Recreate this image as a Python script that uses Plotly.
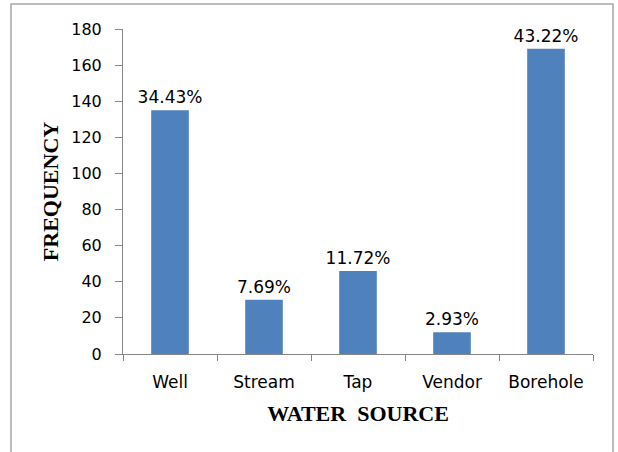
import plotly.graph_objects as go

categories = ["Well", "Stream", "Tap", "Vendor", "Borehole"]
frequency = [135, 30, 46, 12, 169]
percent_labels = ["34.43%", "7.69%", "11.72%", "2.93%", "43.22%"]
y_ticks = [0, 20, 40, 60, 80, 100, 120, 140, 160, 180]

W, H = 618, 452
L, R, T, B = 123, 25, 29, 98
pw, ph = W - L - R, H - T - B

fig = go.Figure(go.Bar(
    x=categories, y=frequency, text=percent_labels,
    textposition="outside", cliponaxis=False, constraintext="none",
    textfont=dict(family="DejaVu Sans", size=17, color="#000000"),
    marker=dict(color="#4f81bd", line=dict(width=0)),
))

fig.update_layout(
    width=W, height=H,
    margin=dict(l=L, r=R, t=T, b=B, autoexpand=False),
    paper_bgcolor="white", plot_bgcolor="white",
    bargap=0.6, showlegend=False,
    xaxis=dict(
        automargin=False,
        showline=True, linecolor="#868686", linewidth=1,
        ticks="outside", tickson="boundaries", ticklen=6, tickcolor="#868686",
        ticklabelstandoff=13,
        tickfont=dict(family="DejaVu Sans", size=17, color="#000000"), showgrid=False,
        title=dict(text="<b>WATER  SOURCE</b>", standoff=14,
                   font=dict(family="Liberation Serif", size=22, color="#000000")),
    ),
    yaxis=dict(
        automargin=False,
        range=[0, 180], tickvals=y_ticks, showline=True, linecolor="#868686", linewidth=1,
        ticks="outside", ticklen=7, tickcolor="#868686", showgrid=False, zeroline=False,
        ticklabelstandoff=10,
        tickfont=dict(family="DejaVu Sans", size=16, color="#000000"),
        title=dict(text="<b>FREQUENCY</b>", standoff=6,
                   font=dict(family="Liberation Serif", size=22, color="#000000")),
    ),
)

# outer chart border (pixel positions converted to paper fractions)
fig.add_shape(type="rect", xref="paper", yref="paper",
              x0=(11 - L) / pw, x1=(613 - L) / pw,
              y0=(H - B - 458) / ph, y1=(H - B - 4) / ph,
              line=dict(color="#a6a6a6", width=1.5), layer="below")

fig.write_html("out.html", config={"displayModeBar": False},
               post_script="document.body.style.margin='0';document.body.style.overflow='hidden';")
